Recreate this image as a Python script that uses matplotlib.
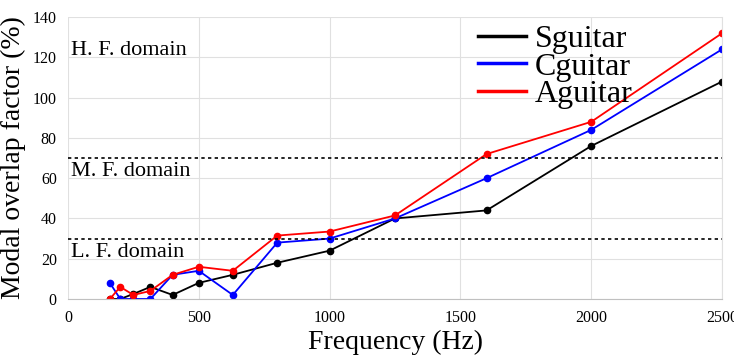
import numpy as np
import matplotlib
matplotlib.use("Agg")
import matplotlib.pyplot as plt
from matplotlib.lines import Line2D

plt.rcParams['font.family'] = ['Liberation Serif', 'DejaVu Serif']

# third-octave centre frequencies (Hz)
freq = [160, 200, 250, 315, 400, 500, 630, 800, 1000, 1250, 1600, 2000, 2500]

# modal overlap factor (%)
s_guitar = [0, 0, 2.5, 6, 2, 8, 12, 18, 24, 40, 44, 76, 108]
c_guitar = [8, 0, 0, 0, 12, 14, 2, 28, 30, 40, 60, 84, 124]
a_guitar = [0, 6, 2, 4, 12, 16, 14, 31.5, 33.5, 41.5, 72, 88, 132]

domain_limits = [30, 70]
domain_labels = ["L. F. domain", "M. F. domain", "H. F. domain"]
domain_label_y = [23, 63.5, 123.5]

fig = plt.figure(figsize=(7.34, 3.57), dpi=100)
ax = fig.add_axes([0.0926, 0.1625, 0.8911, 0.7895])

series = [("Sguitar", s_guitar, "black"),
          ("Cguitar", c_guitar, "blue"),
          ("Aguitar", a_guitar, "red")]
handles = []
for name, vals, col in series:
    ax.plot(freq, vals, color=col, marker="o", ms=4.5, lw=1.3)
    handles.append(Line2D([], [], color=col, lw=2.5, label=name))

for lim in domain_limits:
    ax.axhline(lim, color="black", ls=(0, (2, 2)), lw=1.2)

for lab, yy in zip(domain_labels, domain_label_y):
    ax.text(10, yy, lab, fontsize=16, va="center", ha="left")

ax.set_xlim(0, 2500)
ax.set_ylim(0, 140)
ax.set_xticks(np.arange(0, 2501, 500))
ax.set_yticks(np.arange(0, 141, 20))
ax.grid(True, color="#e0e0e0", lw=0.8)
ax.set_axisbelow(True)
ax.tick_params(length=0, labelsize=11.5, pad=8)
for side in ["top", "left"]:
    ax.spines[side].set_visible(False)
ax.spines["bottom"].set_color("#c0c0c0")
ax.spines["right"].set_color("#e0e0e0")

ax.set_xlabel("Frequency (Hz)", fontsize=20, labelpad=3)
ax.set_ylabel("Modal overlap factor (%)", fontsize=20, labelpad=5)

ax.legend(handles=handles, loc="upper left", bbox_to_anchor=(0.597, 1.042), fontsize=23,
          frameon=False, handlelength=1.5, handletextpad=0.3, labelspacing=-0.05,
          borderpad=0.1)

fig.savefig("out.png", dpi=100)
